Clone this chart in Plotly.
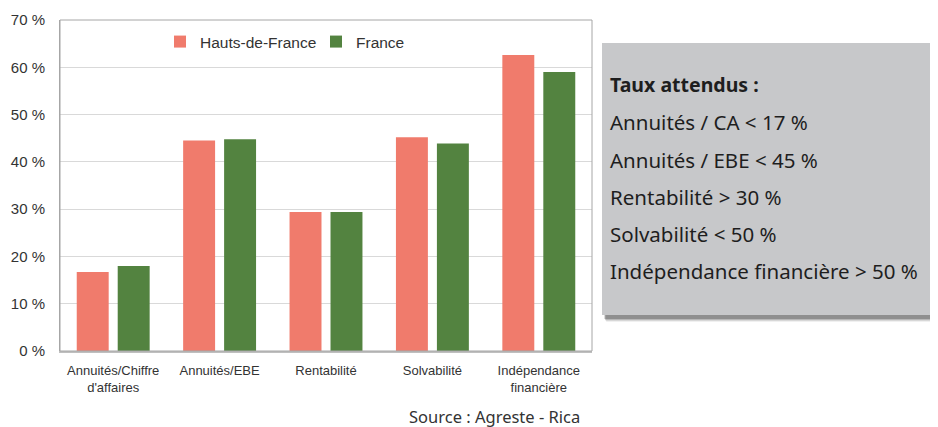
import plotly.graph_objects as go

categories = ["Annuités/Chiffre<br>d'affaires", "Annuités/EBE", "Rentabilité", "Solvabilité", "Indépendance<br>financière"]
hdf_values = [16.7, 44.5, 29.4, 45.2, 62.6]
france_values = [18.0, 44.8, 29.4, 43.9, 59.0]
y_ticks = [0, 10, 20, 30, 40, 50, 60, 70]
y_tick_labels = ["0 %", "10 %", "20 %", "30 %", "40 %", "50 %", "60 %", "70 %"]
box_title = "Taux attendus :"
box_lines = ["Annuités / CA < 17 %", "Annuités / EBE < 45 %", "Rentabilité > 30 %",
             "Solvabilité < 50 %", "Indépendance financière > 50 %"]
source_text = "Source : Agreste - Rica"

OFF = 8  # page body margin
W, H = 938 - OFF, 427 - OFF
L, R, T, B = 60, 592, 20, 351  # page pixel coordinates of plot area

def px(x):
    return (x - L) / (R - L)

def py(y):
    return (B - y) / (B - T)

fig = go.Figure()
fig.add_trace(go.Bar(name="Hauts-de-France", x=categories, y=hdf_values,
                     marker=dict(color="#f07b6c", line=dict(width=0))))
fig.add_trace(go.Bar(name="France", x=categories, y=france_values,
                     marker=dict(color="#538340", line=dict(width=0))))

shapes = []
# shadow of the box
for i, op in enumerate([0.07, 0.12, 0.18, 0.28]):
    off = 7 - i
    shapes.append(dict(type="rect", xref="paper", yref="paper", layer="below",
                       x0=px(602 + off * 0.6), x1=px(932 + off * 0.8), y0=py(315 + off), y1=py(43 + off),
                       fillcolor=f"rgba(40,40,40,{op})", line=dict(width=0)))
shapes.append(dict(type="rect", xref="paper", yref="paper", layer="below",
                   x0=px(602), x1=px(932), y0=py(315), y1=py(43),
                   fillcolor="#c7c8ca", line=dict(width=0)))
# plot frame
shapes.append(dict(type="rect", xref="paper", yref="paper", layer="above",
                   x0=0, x1=1, y0=0, y1=1, line=dict(color="#a6a6a6", width=1)))

BOXFONT = "Noto Sans"
BOXSIZE = 20.5
annotations = [dict(xref="paper", yref="paper", x=px(608), y=py(84), xanchor="left", yanchor="middle",
                    text="<b>" + box_title + "</b>", showarrow=False,
                    font=dict(family=BOXFONT, size=BOXSIZE - 1, color="#1e1e1e"))]
line_y = [122, 160, 197, 234, 271]
for t, yy in zip(box_lines, line_y):
    annotations.append(dict(xref="paper", yref="paper", x=px(608), y=py(yy), xanchor="left",
                            yanchor="middle", text=t, showarrow=False,
                            font=dict(family=BOXFONT, size=BOXSIZE, color="#1e1e1e")))
annotations.append(dict(xref="paper", yref="paper", x=px(494), y=py(417), xanchor="center",
                        yanchor="middle", text=source_text, showarrow=False,
                        font=dict(family=BOXFONT, size=16.5, color="#333333")))

SANS = "Liberation Sans"
fig.update_layout(
    width=W, height=H,
    margin=dict(l=L - OFF, r=W - (R - OFF), t=T - OFF, b=H - (B - OFF), pad=0, autoexpand=False),
    paper_bgcolor="white", plot_bgcolor="white",
    barmode="group", bargap=0.23, bargroupgap=0.22,
    font=dict(family=SANS, color="#333333"),
    legend=dict(orientation="h", x=px(160), y=py(42), xanchor="left", yanchor="middle",
                font=dict(family=SANS, size=15.5, color="#333333"),
                bgcolor="rgba(0,0,0,0)", entrywidth=111, entrywidthmode="pixels",
                traceorder="normal"),
    shapes=shapes, annotations=annotations,
    xaxis=dict(showgrid=False, showline=True, linecolor="#bfbfbf", linewidth=2, automargin=False,
               tickfont=dict(family=SANS, size=13, color="#333333"),
               ticks="outside", ticklen=6, tickcolor="rgba(0,0,0,0)"),
    yaxis=dict(range=[0, 70], tickvals=y_ticks, ticktext=y_tick_labels, automargin=False,
               showgrid=True, gridcolor="#d9d9d9", gridwidth=1,
               showline=True, linecolor="#a6a6a6", linewidth=1, zeroline=False,
               tickfont=dict(family=SANS, size=15, color="#333333"),
               ticks="outside", ticklen=11, tickcolor="rgba(0,0,0,0)"),
    showlegend=True,
)

fig.write_html("out.html")
